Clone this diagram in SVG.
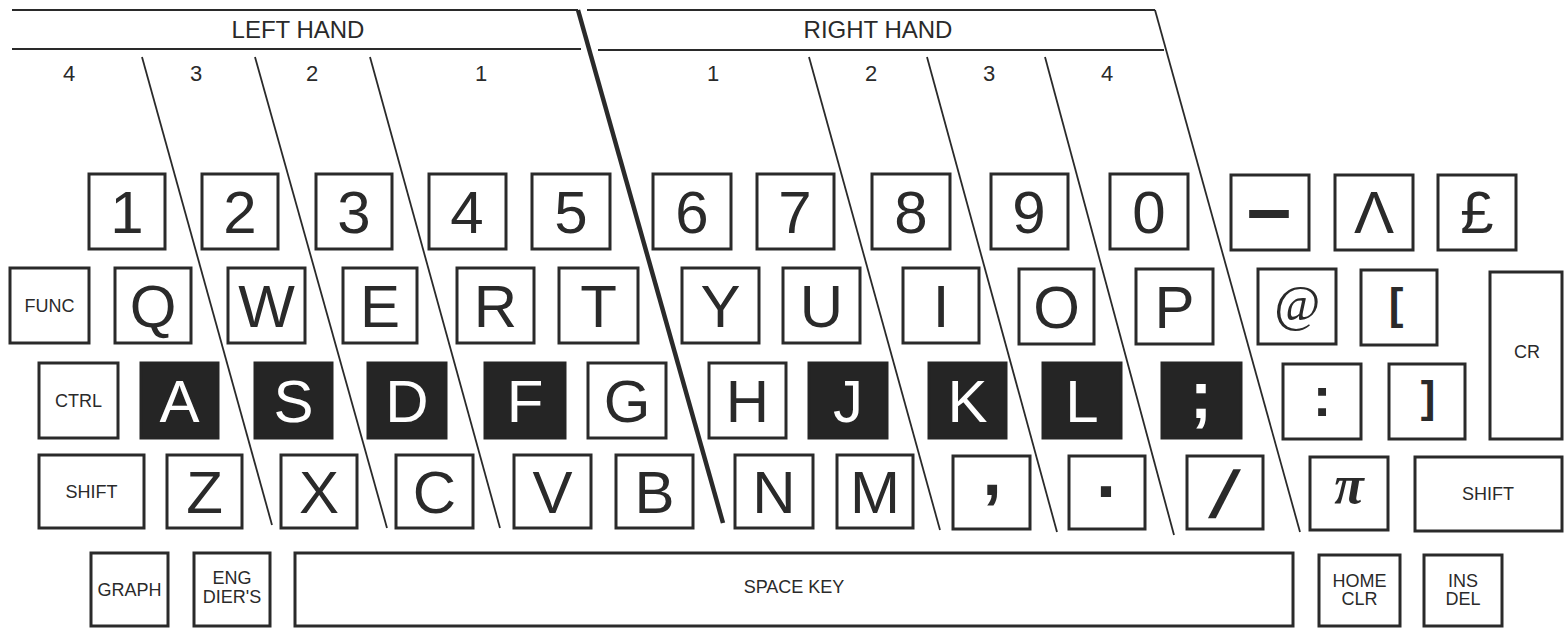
<svg xmlns="http://www.w3.org/2000/svg" width="1564" height="629" viewBox="0 0 1564 629">
<style>
.bg{fill:#ffffff}
.k{fill:#ffffff;stroke:#2a2a2a;stroke-width:3}
.kb{fill:#252525;stroke:#252525;stroke-width:3}
.t{font-family:"Liberation Sans",Arial,sans-serif;font-size:60px;fill:#2a2a2a;text-anchor:middle}
.tw{font-family:"Liberation Sans",Arial,sans-serif;font-size:60px;fill:#ffffff;text-anchor:middle}
.tb{font-family:"Liberation Sans",Arial,sans-serif;font-weight:bold;fill:#2a2a2a;text-anchor:middle}
.ts{font-family:"Liberation Serif","Times New Roman",serif;fill:#2a2a2a;text-anchor:middle}
.s{font-family:"Liberation Sans",Arial,sans-serif;font-size:18px;fill:#2a2a2a;text-anchor:middle}
.h{font-family:"Liberation Sans",Arial,sans-serif;font-size:24px;fill:#2a2a2a;text-anchor:middle}
.n{font-family:"Liberation Sans",Arial,sans-serif;font-size:22px;fill:#2a2a2a;text-anchor:middle}
.ln{fill:none;stroke:#2a2a2a;stroke-width:2}
.thin{fill:none;stroke:#2a2a2a;stroke-width:1.8}
.thick{fill:none;stroke:#2a2a2a;stroke-width:4.5}
</style>
<rect class="bg" x="0" y="0" width="1564" height="629"/>

<g id="header">
  <polyline class="ln" points="12,10 578,10"/>
  <line class="ln" x1="12" y1="49" x2="581" y2="49"/>
  <polyline class="ln" points="587,10 1155,10"/>
  <line class="ln" x1="598" y1="50" x2="1164" y2="50"/>
  <text class="h" x="298" y="38">LEFT HAND</text>
  <text class="h" x="878" y="38">RIGHT HAND</text>
  <text class="n" x="69" y="81">4</text>
  <text class="n" x="196" y="81">3</text>
  <text class="n" x="312" y="81">2</text>
  <text class="n" x="481" y="81">1</text>
  <text class="n" x="713" y="81">1</text>
  <text class="n" x="871" y="81">2</text>
  <text class="n" x="989" y="81">3</text>
  <text class="n" x="1107" y="81">4</text>
</g>

<g id="connectors">
  <line class="thick" x1="578" y1="10" x2="723" y2="523"/>
  <line class="thin" x1="1155" y1="10" x2="1300" y2="532"/>
  <line class="thin" x1="142" y1="57" x2="272" y2="525"/>
  <line class="thin" x1="255" y1="57" x2="387" y2="528"/>
  <line class="thin" x1="370" y1="57" x2="500" y2="528"/>
  <line class="thin" x1="809" y1="57" x2="940" y2="530"/>
  <line class="thin" x1="927" y1="57" x2="1057" y2="532"/>
  <line class="thin" x1="1045" y1="57" x2="1174" y2="535"/>
</g>

<!-- number row -->
<g id="key-1"><rect class="k" x="89" y="174" width="76" height="75"/><text class="t" x="127" y="233">1</text></g>
<g id="key-2"><rect class="k" x="202" y="174" width="76" height="75"/><text class="t" x="240" y="233">2</text></g>
<g id="key-3"><rect class="k" x="316" y="174" width="76" height="75"/><text class="t" x="354" y="233">3</text></g>
<g id="key-4"><rect class="k" x="429" y="174" width="77" height="75"/><text class="t" x="467" y="233">4</text></g>
<g id="key-5"><rect class="k" x="532" y="174" width="78" height="75"/><text class="t" x="571" y="233">5</text></g>
<g id="key-6"><rect class="k" x="653" y="174" width="78" height="75"/><text class="t" x="692" y="233">6</text></g>
<g id="key-7"><rect class="k" x="757" y="174" width="77" height="75"/><text class="t" x="795" y="233">7</text></g>
<g id="key-8"><rect class="k" x="872" y="174" width="78" height="75"/><text class="t" x="911" y="233">8</text></g>
<g id="key-9"><rect class="k" x="991" y="174" width="77" height="75"/><text class="t" x="1029" y="233">9</text></g>
<g id="key-0"><rect class="k" x="1110" y="174" width="78" height="75"/><text class="t" x="1149" y="233">0</text></g>
<g id="key-minus"><rect class="k" x="1231" y="175" width="78" height="75"/><text class="tb" x="1269" y="235" font-size="80">–</text></g>
<g id="key-caret"><rect class="k" x="1335" y="175" width="78" height="75"/><text class="t" x="1374" y="233">Λ</text></g>
<g id="key-pound"><rect class="k" x="1438" y="175" width="78" height="75"/><text class="t" x="1477" y="233">£</text></g>

<!-- Q row -->
<g id="key-func"><rect class="k" x="10" y="268" width="79" height="75"/><text class="s" x="49.5" y="312">FUNC</text></g>
<g id="key-q"><rect class="k" x="115" y="268" width="76" height="75"/><text class="t" x="153" y="327">Q</text></g>
<g id="key-w"><rect class="k" x="228" y="268" width="77" height="75"/><text class="t" x="266.5" y="327">W</text></g>
<g id="key-e"><rect class="k" x="343" y="268" width="74" height="75"/><text class="t" x="380" y="327">E</text></g>
<g id="key-r"><rect class="k" x="457" y="268" width="77" height="75"/><text class="t" x="495.5" y="327">R</text></g>
<g id="key-t"><rect class="k" x="559" y="268" width="79" height="75"/><text class="t" x="598.5" y="327">T</text></g>
<g id="key-y"><rect class="k" x="682" y="268" width="77" height="75"/><text class="t" x="720.5" y="327">Y</text></g>
<g id="key-u"><rect class="k" x="783" y="268" width="77" height="75"/><text class="t" x="821.5" y="327">U</text></g>
<g id="key-i"><rect class="k" x="903" y="268" width="76" height="75"/><text class="t" x="941" y="327">I</text></g>
<g id="key-o"><rect class="k" x="1019" y="269" width="75" height="75"/><text class="t" x="1056.5" y="328">O</text></g>
<g id="key-p"><rect class="k" x="1136" y="269" width="77" height="75"/><text class="t" x="1174.5" y="328">P</text></g>
<g id="key-at"><rect class="k" x="1258" y="269" width="78" height="75"/><text class="ts" x="1297" y="320" font-size="50" font-style="italic">@</text></g>
<g id="key-lbracket"><rect class="k" x="1361" y="270" width="76" height="75"/><text class="tb" x="1396" y="319" font-size="44">[</text></g>
<g id="key-cr"><rect class="k" x="1490" y="272" width="72" height="167"/><text class="s" x="1527" y="358">CR</text></g>

<!-- A row -->
<g id="key-ctrl"><rect class="k" x="39" y="363" width="79" height="75"/><text class="s" x="78.5" y="407">CTRL</text></g>
<g id="key-a"><rect class="kb" x="141" y="363" width="77" height="75"/><text class="tw" x="179.5" y="422">A</text></g>
<g id="key-s"><rect class="kb" x="255" y="363" width="77" height="75"/><text class="tw" x="293.5" y="422">S</text></g>
<g id="key-d"><rect class="kb" x="368" y="363" width="78" height="75"/><text class="tw" x="407" y="422">D</text></g>
<g id="key-f"><rect class="kb" x="485" y="363" width="80" height="75"/><text class="tw" x="525" y="422">F</text></g>
<g id="key-g"><rect class="k" x="588" y="363" width="78" height="75"/><text class="t" x="627" y="422">G</text></g>
<g id="key-h"><rect class="k" x="709" y="363" width="77" height="75"/><text class="t" x="747.5" y="422">H</text></g>
<g id="key-j"><rect class="kb" x="809" y="363" width="78" height="75"/><text class="tw" x="848" y="422">J</text></g>
<g id="key-k"><rect class="kb" x="929" y="363" width="77" height="75"/><text class="tw" x="967.5" y="422">K</text></g>
<g id="key-l"><rect class="kb" x="1043" y="363" width="78" height="75"/><text class="tw" x="1082" y="422">L</text></g>
<g id="key-semicolon"><rect class="kb" x="1162" y="363" width="79" height="75"/><text class="tb" x="1201" y="418" font-size="66" style="fill:#ffffff">;</text></g>
<g id="key-colon"><rect class="k" x="1283" y="364" width="78" height="75"/><text class="tb" x="1322" y="416" font-size="56">:</text></g>
<g id="key-rbracket"><rect class="k" x="1389" y="364" width="76" height="75"/><text class="tb" x="1428" y="412" font-size="44">]</text></g>

<!-- Z row -->
<g id="key-shift-l"><rect class="k" x="39" y="455" width="105" height="73"/><text class="s" x="91.5" y="498">SHIFT</text></g>
<g id="key-z"><rect class="k" x="167" y="455" width="75" height="73"/><text class="t" x="204.5" y="513">Z</text></g>
<g id="key-x"><rect class="k" x="281" y="455" width="76" height="73"/><text class="t" x="319" y="513">X</text></g>
<g id="key-c"><rect class="k" x="396" y="455" width="77" height="73"/><text class="t" x="434.5" y="513">C</text></g>
<g id="key-v"><rect class="k" x="514" y="455" width="77" height="73"/><text class="t" x="552.5" y="513">V</text></g>
<g id="key-b"><rect class="k" x="616" y="455" width="77" height="73"/><text class="t" x="654.5" y="513">B</text></g>
<g id="key-n"><rect class="k" x="735" y="455" width="78" height="73"/><text class="t" x="774" y="513">N</text></g>
<g id="key-m"><rect class="k" x="837" y="455" width="76" height="73"/><text class="t" x="875" y="513">M</text></g>
<g id="key-comma"><rect class="k" x="953" y="456" width="77" height="73"/><text class="tb" x="992" y="495" font-size="69">,</text></g>
<g id="key-period"><rect class="k" x="1069" y="456" width="76" height="73"/><text class="tb" x="1106" y="497" font-size="72">.</text></g>
<g id="key-slash"><rect class="k" x="1187" y="456" width="76" height="73"/><text class="tb" transform="translate(1217,517) skewX(-18)" x="0" y="0" font-size="66">/</text></g>
<g id="key-pi"><rect class="k" x="1310" y="457" width="78" height="73"/><text class="ts" x="1349" y="503" font-size="54" font-style="italic" font-weight="bold">π</text></g>
<g id="key-shift-r"><rect class="k" x="1415" y="457" width="147" height="74"/><text class="s" x="1488" y="500">SHIFT</text></g>

<!-- bottom row -->
<g id="key-graph"><rect class="k" x="91" y="553" width="77" height="73"/><text class="s" x="129.5" y="596">GRAPH</text></g>
<g id="key-eng"><rect class="k" x="194" y="553" width="76" height="73"/><text class="s" x="232" y="584">ENG</text><text class="s" x="232" y="603">DIER'S</text></g>
<g id="key-space"><rect class="k" x="295" y="553" width="998" height="73"/><text class="s" x="794" y="593">SPACE KEY</text></g>
<g id="key-home"><rect class="k" x="1319" y="555" width="81" height="71"/><text class="s" x="1359.5" y="587">HOME</text><text class="s" x="1359.5" y="605">CLR</text></g>
<g id="key-ins"><rect class="k" x="1424" y="555" width="78" height="71"/><text class="s" x="1463" y="587">INS</text><text class="s" x="1463" y="605">DEL</text></g>
</svg>
